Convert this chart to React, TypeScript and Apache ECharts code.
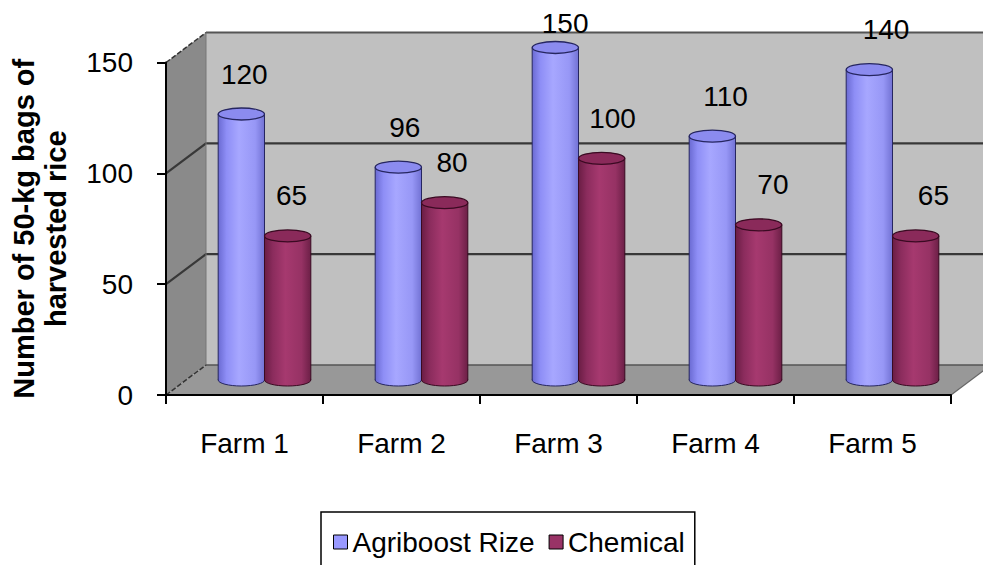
import React, { useEffect, useRef } from "react";
import * as echarts from "echarts";

const categories = ["Farm 1", "Farm 2", "Farm 3", "Farm 4", "Farm 5"];
const agriboostValues = [120, 96, 150, 110, 140];
const chemicalValues = [65, 80, 100, 70, 65];
const seriesNames = ["Agriboost Rize", "Chemical"];
const yMin = 0;
const yMax = 150;
const yInterval = 50;
const yTitle = "Number of 50-kg bags of\nharvested rice";

const DX = 40;
const DY = -30;
const FONT = "'Liberation Sans', Arial, sans-serif";
const FS = 28;

const blueStops = ["#6a6ad2", "#8e8ef6", "#a7a7ff", "#9797f6", "#7272d4"];
const redStops = ["#6a1d44", "#8b2c5d", "#a6396f", "#963264", "#6c1f46"];

function grad(stops: string[]) {
  return new echarts.graphic.LinearGradient(0, 0, 1, 0, [
    { offset: 0, color: stops[0] },
    { offset: 0.18, color: stops[1] },
    { offset: 0.45, color: stops[2] },
    { offset: 0.8, color: stops[3] },
    { offset: 1, color: stops[4] },
  ]);
}

function wallsRender(params: any, api: any) {
  const cs = params.coordSys;
  const x0 = cs.x;
  const x1 = cs.x + cs.width;
  const yT = cs.y;
  const yB = cs.y + cs.height;
  const children: any[] = [];
  children.push({
    type: "polygon",
    shape: { points: [[x0 + DX, yT + DY], [x1 + DX, yT + DY], [x1 + DX, yB + DY], [x0 + DX, yB + DY]] },
    style: { fill: "#c0c0c0" },
  });
  children.push({
    type: "polygon",
    shape: { points: [[x0, yB], [x1, yB], [x1 + DX, yB + DY], [x0 + DX, yB + DY]] },
    style: { fill: "#989898" },
  });
  children.push({
    type: "polygon",
    shape: { points: [[x0, yB], [x0, yT], [x0 + DX, yT + DY], [x0 + DX, yB + DY]] },
    style: { fill: "#8a8a8a" },
  });
  for (let v = yMin + yInterval; v < yMax; v += yInterval) {
    const y = api.coord([0, v])[1];
    children.push({
      type: "polyline",
      shape: { points: [[x0, y], [x0 + DX, y + DY], [x1 + DX, y + DY]] },
      style: { stroke: "#383838", lineWidth: 2.2, fill: null },
    });
  }
  children.push({
    type: "polyline",
    shape: { points: [[x0 + DX, yT + DY], [x1 + DX, yT + DY]] },
    style: { stroke: "#555", lineWidth: 1.8, fill: null },
  });
  children.push({
    type: "polyline",
    shape: { points: [[x0, yT], [x0 + DX, yT + DY]] },
    style: { stroke: "#333", lineWidth: 1.5, fill: null, lineDash: [5, 2] },
  });
  children.push({
    type: "polyline",
    shape: { points: [[x0 + DX, yT + DY], [x0 + DX, yB + DY]] },
    style: { stroke: "#777", lineWidth: 1, fill: null },
  });
  children.push({
    type: "polyline",
    shape: { points: [[x0 + DX, yB + DY], [x1 + DX, yB + DY]] },
    style: { stroke: "#555", lineWidth: 1.6, fill: null },
  });
  children.push({
    type: "polyline",
    shape: { points: [[x0, yB], [x0 + DX, yB + DY]] },
    style: { stroke: "#333", lineWidth: 1.5, fill: null, lineDash: [5, 2] },
  });
  children.push({
    type: "polyline",
    shape: { points: [[x1, yB], [x1 + DX, yB + DY]] },
    style: { stroke: "#666", lineWidth: 1.2, fill: null },
  });
  return { type: "group", children };
}

function makeCylinder(side: number, stops: string[], topFill: string, edge: string) {
  return (params: any, api: any) => {
    const cat = api.value(0);
    const val = api.value(1);
    const base = api.coord([cat, 0]);
    const top = api.coord([cat, val]);
    const band = api.size([1, 0])[0];
    const w = band * 0.295;
    const r = w / 2;
    const cx = base[0] + side * r + DX / 2;
    const yb = base[1] + DY / 2;
    const yt = top[1] + DY / 2;
    const ry = 6;
    const lx = cx + 2 + (cx - 200) * 0.022;
    const ly = Math.max(yt - 40, 23);
    return {
      type: "group",
      children: [
        { type: "ellipse", shape: { cx, cy: yb, rx: r, ry }, style: { fill: grad(stops), stroke: edge, lineWidth: 1 } },
        { type: "rect", shape: { x: cx - r, y: yt, width: 2 * r, height: yb - yt }, style: { fill: grad(stops) } },
        { type: "line", shape: { x1: cx - r, y1: yt, x2: cx - r, y2: yb }, style: { stroke: edge, lineWidth: 1 } },
        { type: "line", shape: { x1: cx + r, y1: yt, x2: cx + r, y2: yb }, style: { stroke: edge, lineWidth: 1 } },
        { type: "ellipse", shape: { cx, cy: yt, rx: r, ry }, style: { fill: topFill, stroke: edge, lineWidth: 1.3 } },
        {
          type: "text",
          style: {
            text: String(val),
            x: lx,
            y: ly,
            fill: "#000",
            font: `${FS}px ${FONT}`,
            align: "center",
            verticalAlign: "middle",
          },
        },
      ],
    };
  };
}

export default function App() {
  const ref = useRef<HTMLDivElement>(null);
  useEffect(() => {
    if (!ref.current) return;
    const chart = echarts.init(ref.current, null, { renderer: "svg" });
    const blueData = categories.map((_, i) => [i, agriboostValues[i]]);
    const redData = categories.map((_, i) => [i, chemicalValues[i]]);
    chart.setOption({
      animation: false,
      backgroundColor: "#fff",
      textStyle: { fontFamily: FONT },
      grid: { left: 162, right: 32, top: 62.5, bottom: 170, containLabel: false },
      legend: {
        data: seriesNames.map((n) => ({ name: n, icon: "rect" })),
        left: 321,
        top: 512,
        itemWidth: 14,
        itemHeight: 14,
        itemGap: 14,
        borderColor: "#000",
        borderWidth: 1.5,
        borderRadius: 0,
        padding: [16, 10, 30, 12],
        textStyle: { fontSize: FS, color: "#000", fontFamily: FONT },
        itemStyle: { borderColor: "#000", borderWidth: 1 },
      },
      xAxis: {
        type: "category",
        data: categories,
        z: 3,
        axisLine: { show: true, lineStyle: { color: "#000", width: 2 } },
        axisTick: { show: true, length: 9, lineStyle: { color: "#000", width: 2 } },
        axisLabel: { fontSize: FS, color: "#000", margin: 34, fontFamily: FONT },
        splitLine: { show: false },
      },
      yAxis: {
        type: "value",
        min: yMin,
        max: yMax,
        interval: yInterval,
        z: 3,
        name: yTitle,
        nameLocation: "middle",
        nameRotate: 90,
        nameGap: 94,
        nameTextStyle: { fontSize: 29, fontWeight: "bold", color: "#000", lineHeight: 32, fontFamily: FONT },
        axisLine: { show: true, lineStyle: { color: "#000", width: 2 } },
        axisTick: { show: true, length: 9, lineStyle: { color: "#000", width: 2 } },
        axisLabel: { fontSize: FS, color: "#000", margin: 33, fontFamily: FONT },
        splitLine: { show: false },
      },
      series: [
        {
          type: "custom",
          name: "walls",
          z: 1,
          silent: true,
          renderItem: wallsRender,
          data: [[0, 0]],
        },
        {
          type: "custom",
          name: seriesNames[0],
          z: 4,
          itemStyle: { color: "#9999ff" },
          renderItem: makeCylinder(-1, blueStops, "#8b8bef", "#262660"),
          data: blueData,
        },
        {
          type: "custom",
          name: seriesNames[1],
          z: 4,
          itemStyle: { color: "#993366" },
          renderItem: makeCylinder(1, redStops, "#8a2a5a", "#3a0a22"),
          data: redData,
        },
      ],
    });
    return () => chart.dispose();
  }, []);
  return (
    <div
      ref={ref}
      style={{ position: "fixed", left: 0, top: 0, width: 983, height: 565 }}
    />
  );
}
